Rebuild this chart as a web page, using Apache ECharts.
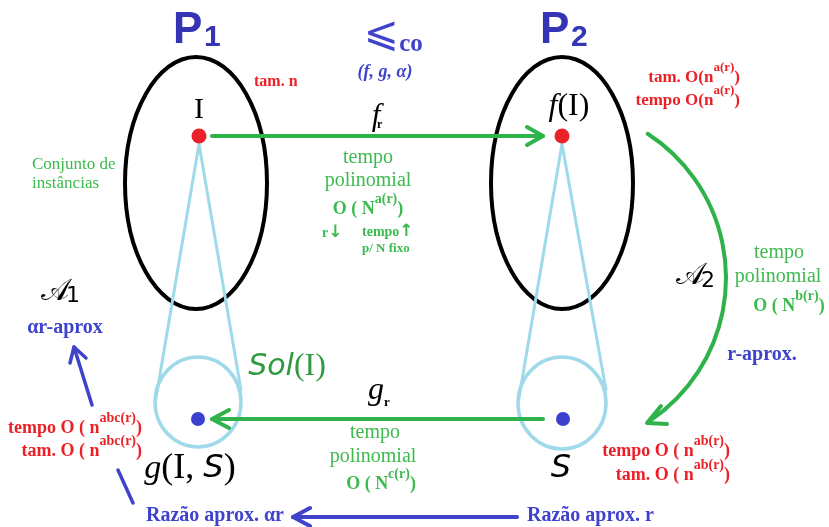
<!DOCTYPE html>
<html><head><meta charset="utf-8">
<script src="https://cdn.jsdelivr.net/npm/echarts@6/dist/echarts.min.js"></script>
<style>html,body{margin:0;padding:0;background:#fff}#c{width:829px;height:527px}</style>
</head><body><div id="c"></div>
<script>
// ---- data (in pixel-like units of a 829x527 plane) ----
const problemSets = [[196, 183, 71, 126], [562, 183, 71, 126]];      // [cx, cy, rx, ry]
const solutionSets = [[198, 402, 43, 45], [562, 403, 44, 46]];
const instancePoints = [[199, 136], [562, 136]];
const solutionPoints = [[198, 419], [563, 419]];
const cone1 = [[156, 398], [199, 144], [241, 390]];
const cone2 = [[519, 398], [562, 144], [606, 390]];
const fArrow = [[212, 136], [543, 136]];
const fHead = [[527, 127], [543, 136], [527, 145]];
const gArrow = [[543, 419], [212, 419]];
const gHead = [[229, 410], [212, 419], [229, 428]];
const a2Arc = [[554, 278, 172, -57, 56]];                              // [cx, cy, r, startDeg, endDeg]
const a2Head = [[661, 406], [647, 423], [667, 424]];
const ratioArrow = [[517, 517], [293, 517]];
const ratioHead = [[310, 508], [293, 517], [310, 526]];
const a1Lower = [[133, 503], [118, 470]];
const a1Upper = [[92, 405], [74, 347]];
const a1Head = [[70, 363], [74, 347], [86, 358]];

const C = {
  black: '#000000', green: '#2fb24a', gtext: '#3dba4e', dgreen: '#2f9a3f',
  cone: '#9fd9ea', red: '#ec2128', blue: '#3f43cc', pblue: '#3434b4', dot: '#3b40cf'
};
const SERIF = 'Liberation Serif', SANS = 'Liberation Sans', DJ = 'DejaVu Sans';

function F(size, o) {
  o = o || {};
  const s = {fontSize: size, fontFamily: o.family || SERIF, fontWeight: o.bold ? 'bold' : 'normal',
    fontStyle: o.italic ? 'italic' : 'normal', fill: o.fill || '#000'};
  if (o.lh) s.lineHeight = o.lh;
  if (o.va) s.verticalAlign = o.va;
  return s;
}
function T(x, y, text, style, rich) {
  const st = Object.assign({text: text, textAlign: 'center', textVerticalAlign: 'middle'}, style);
  if (rich) st.rich = rich;
  return {type: 'text', x: x, y: y, silent: true, z: 100, style: st};
}
function L(x, y, text, style, rich) { return T(x, y, text, Object.assign({}, style, {textAlign: 'left'}), rich); }
function sup(x, y, pre, s, post, align, size, ssize, fill, bold) {
  const b = bold !== false;
  return T(x, y, '{b|' + pre + '}{s|' + s + '}{b|' + post + '}', Object.assign(F(size, {bold: b, fill: fill}), {textAlign: align}), {
    b: F(size, {bold: b, fill: fill, lh: size + 8, va: 'bottom'}),
    s: F(ssize, {bold: b, fill: fill, lh: ssize, va: 'top'})
  });
}
function lineS(data, color, width) {
  return {type: 'line', data: data, symbol: 'none', silent: true, z: 5,
    lineStyle: {color: color, width: width, cap: 'round', join: 'round'}};
}
function ellipseS(data, color, width) {
  return {type: 'custom', coordinateSystem: 'cartesian2d', data: data, silent: true, z: 4,
    renderItem: function (p, api) {
      const c = api.coord([api.value(0), api.value(1)]);
      const s = api.size([api.value(2), api.value(3)]);
      return {type: 'ellipse', shape: {cx: c[0], cy: c[1], rx: s[0], ry: s[1]},
        style: {fill: 'none', stroke: color, lineWidth: width}};
    }};
}
function arcS(data, color, width) {
  return {type: 'custom', coordinateSystem: 'cartesian2d', data: data, silent: true, z: 5,
    renderItem: function (p, api) {
      const c = api.coord([api.value(0), api.value(1)]);
      const r = api.size([api.value(2), api.value(2)])[0];
      return {type: 'arc', shape: {cx: c[0], cy: c[1], r: r,
        startAngle: api.value(3) * Math.PI / 180, endAngle: api.value(4) * Math.PI / 180, clockwise: true},
        style: {fill: 'none', stroke: color, lineWidth: width, lineCap: 'round'}};
    }};
}

const arrowTxt = function (x, y, word, arrow) {
  return L(x, y, '{w|' + word + '}{a|' + arrow + '}', F(14, {bold: true, fill: C.gtext}),
    {w: F(14, {bold: true, fill: C.gtext}), a: F(17, {family: DJ, bold: true, fill: C.gtext})});
};

const texts = [
  L(173, 31, 'P', F(44, {family: SANS, bold: true, fill: C.pblue})),
  L(204, 38, '1', F(30, {family: SANS, bold: true, fill: C.pblue})),
  L(540, 31, 'P', F(44, {family: SANS, bold: true, fill: C.pblue})),
  L(571, 38, '2', F(30, {family: SANS, bold: true, fill: C.pblue})),
  T(381, 35, '⩽', F(42, {family: DJ, fill: C.blue})),
  T(411, 45, 'co', F(25, {bold: true, fill: C.blue})),
  T(385, 72, '(f, g, α)', F(18, {bold: true, italic: true, fill: C.blue})),
  L(254, 82, 'tam. n', F(16, {bold: true, fill: C.red})),
  T(199, 110, 'I', F(30, {})),
  T(569, 107, '{f|f}{p|(I)}', F(30, {}), {f: F(32, {italic: true}), p: F(32, {})}),
  T(376, 117, 'f', F(31, {italic: true})),
  L(377, 125, 'r', F(12, {bold: true})),
  T(368, 158, 'tempo', F(20, {fill: C.gtext})),
  T(368, 181, 'polinomial', F(20, {fill: C.gtext})),
  sup(368, 205, 'O ( N', 'a(r)', ')', 'center', 18, 14, C.gtext),
  arrowTxt(322, 233, 'r', '↓'),
  arrowTxt(362, 232, 'tempo', '↑'),
  L(362, 249, 'p/ N fixo', F(13, {bold: true, fill: C.gtext})),
  L(32, 165, 'Conjunto de', F(17, {fill: C.gtext})),
  L(32, 184, 'instâncias', F(17, {fill: C.gtext})),
  sup(740, 74, 'tam. O(n', 'a(r)', ')', 'right', 17, 13, C.red),
  sup(740, 97, 'tempo O(n', 'a(r)', ')', 'right', 17, 13, C.red),
  T(690, 276, '𝒜', F(30, {family: DJ})),
  L(701, 281, '2', F(22, {family: DJ})),
  T(779, 253, 'tempo', F(20, {fill: C.gtext})),
  T(778, 277, 'polinomial', F(20, {fill: C.gtext})),
  sup(789, 302, 'O ( N', 'b(r)', ')', 'center', 18, 14, C.gtext),
  T(762, 355, 'r-aprox.', F(20, {bold: true, fill: C.blue})),
  T(55, 292, '𝒜', F(30, {family: DJ})),
  L(66, 296, '1', F(22, {family: DJ})),
  T(65, 328, 'αr-aprox', F(20, {bold: true, fill: C.blue})),
  T(287, 367, '{s|Sol}{p|(I)}', F(30, {}), {s: F(30, {family: DJ, italic: true, fill: C.dgreen}), p: F(32, {fill: C.dgreen})}),
  T(376, 391, 'g', F(32, {italic: true})),
  L(384, 403, 'r', F(13, {bold: true})),
  T(375, 433, 'tempo', F(20, {fill: C.gtext})),
  T(373, 457, 'polinomial', F(20, {fill: C.gtext})),
  sup(381, 480, 'O ( N', 'c(r)', ')', 'center', 18, 14, C.gtext),
  sup(142, 424, 'tempo O ( n', 'abc(r)', ')', 'right', 18, 14, C.red),
  sup(142, 447, 'tam. O ( n', 'abc(r)', ')', 'right', 18, 14, C.red),
  T(190, 469, '{g|g}{p|(I, }{s|S}{p|)}', F(34, {}), {g: F(34, {italic: true}), p: F(36, {}), s: F(32, {family: DJ, italic: true})}),
  T(561, 469, 'S', F(32, {family: DJ, italic: true})),
  sup(730, 447, 'tempo O ( n', 'ab(r)', ')', 'right', 18, 14, C.red),
  sup(730, 471, 'tam. O ( n', 'ab(r)', ')', 'right', 18, 14, C.red),
  T(215, 516, 'Razão aprox. αr', F(20, {bold: true, fill: C.blue})),
  L(527, 516, 'Razão aprox. r', F(20, {bold: true, fill: C.blue}))
];

const chart = echarts.init(document.getElementById('c'), null, {renderer: 'canvas'});
chart.setOption({
  animation: false,
  backgroundColor: '#fff',
  grid: {left: 0, right: 0, top: 0, bottom: 0},
  xAxis: {type: 'value', min: 0, max: 829, show: false},
  yAxis: {type: 'value', min: 0, max: 527, inverse: true, show: false},
  series: [
    lineS(cone1, C.cone, 3), lineS(cone2, C.cone, 3),
    ellipseS(solutionSets, C.cone, 3.5),
    ellipseS(problemSets, C.black, 4),
    lineS(fArrow, C.green, 4), lineS(fHead, C.green, 4),
    lineS(gArrow, C.green, 4), lineS(gHead, C.green, 4),
    arcS(a2Arc, C.green, 4), lineS(a2Head, C.green, 4),
    lineS(ratioArrow, C.blue, 4), lineS(ratioHead, C.blue, 4),
    lineS(a1Lower, C.blue, 3.5), lineS(a1Upper, C.blue, 3.5), lineS(a1Head, C.blue, 3.5),
    {type: 'scatter', data: instancePoints, symbolSize: 15, itemStyle: {color: C.red, opacity: 1}, silent: true, z: 6},
    {type: 'scatter', data: solutionPoints, symbolSize: 14, itemStyle: {color: C.dot, opacity: 1}, silent: true, z: 6}
  ],
  graphic: texts
});
</script></body></html>
